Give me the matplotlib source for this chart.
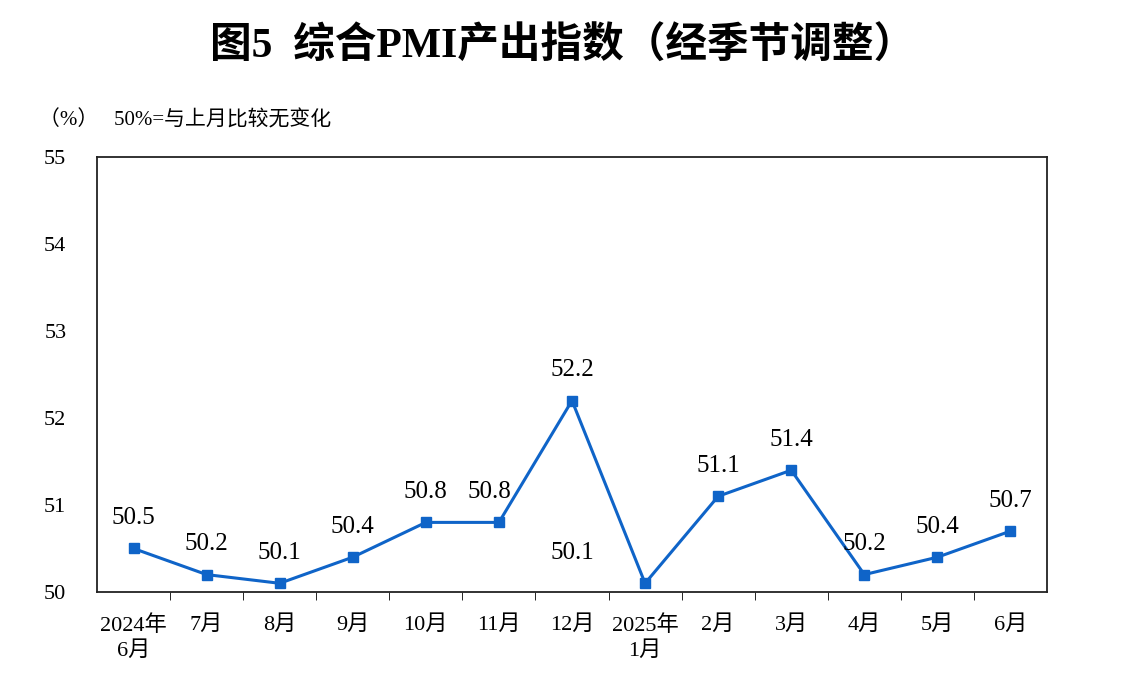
import matplotlib
matplotlib.use("Agg")
import matplotlib.pyplot as plt
from matplotlib.ticker import FixedLocator

plt.rcParams['font.family'] = ['Liberation Serif', 'Noto Sans CJK SC']

categories = ["2024年\n6月", "7月", "8月", "9月", "10月", "11月", "12月", "2025年\n1月", "2月", "3月", "4月", "5月", "6月"]
values = [50.5, 50.2, 50.1, 50.4, 50.8, 50.8, 52.2, 50.1, 51.1, 51.4, 50.2, 50.4, 50.7]
yticks = [50, 51, 52, 53, 54, 55]

fig = plt.figure(figsize=(11.25, 7), dpi=100)
ax = fig.add_axes([0.0862, 0.1543, 0.8445, 0.6214])
x = list(range(len(values)))
color = '#0F64C8'
ax.plot(x, values, color=color, lw=2.2, marker='s', ms=7, mfc=color, mec=color)
for i, v in enumerate(values):
    if i == 7:
        ax.annotate(f"{v}", (i, v), xytext=(-52, 14), textcoords='offset points',
                    ha='center', va='bottom', fontsize=18)
    else:
        dx = -7 if i == 5 else 0
        ax.annotate(f"{v}", (i, v), xytext=(dx, 14), textcoords='offset points',
                    ha='center', va='bottom', fontsize=18)
ax.set_xlim(-0.5, len(values) - 0.5)
ax.set_ylim(50, 55)
ax.set_yticks(yticks)
ax.set_yticklabels([str(t) for t in yticks], fontsize=16)
ax.set_xticks(x)
ax.set_xticklabels(categories, fontsize=16, linespacing=1.35)
ax.tick_params(axis='x', length=0, pad=17)
ax.tick_params(axis='y', length=0, pad=22)
ax.xaxis.set_minor_locator(FixedLocator([i + 0.5 for i in range(len(values) - 1)]))
ax.tick_params(axis='x', which='minor', length=6, direction='out')
for s in ax.spines.values():
    s.set_linewidth(1.3)
    s.set_color('#222222')

fig.text(0.5, 0.933, "图5  综合PMI产出指数（经季节调整）", ha='center', va='center',
         fontsize=30, fontweight='bold')
fig.text(0.035, 0.828, "（%）   50%=与上月比较无变化", ha='left', va='center', fontsize=15)
fig.savefig("out.png", dpi=100)
